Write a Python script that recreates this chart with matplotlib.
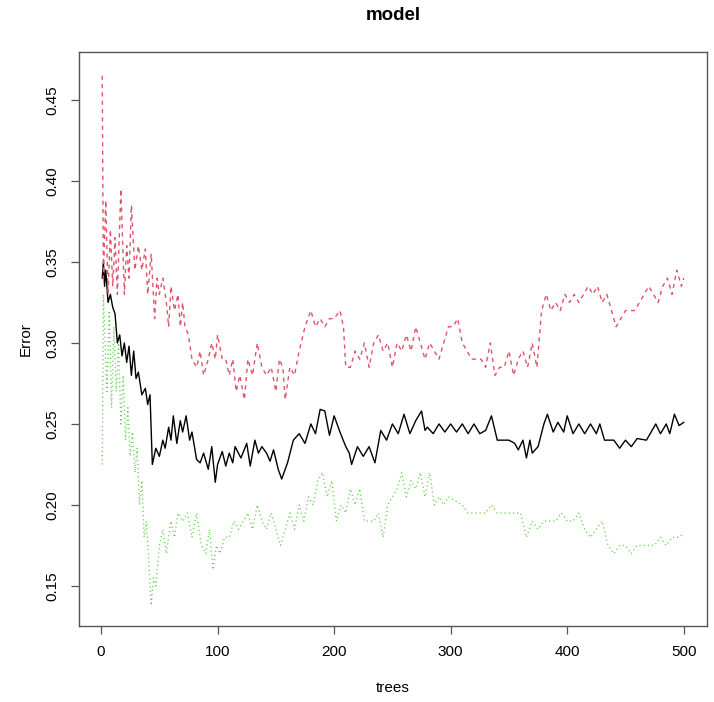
"""Random forest error vs number of trees (R randomForest style plot)."""

import matplotlib
matplotlib.use("Agg")
import matplotlib.pyplot as plt

plt.rcParams.update({
    "font.family": ["Liberation Sans", "DejaVu Sans"],
    "font.size": 11,
})

# OOB error (black, solid)
oob_trees = [1, 2, 3, 4, 6, 8, 10, 12, 14, 16,
             18, 20, 22, 24, 26, 28, 30, 32, 35, 38,
             40, 42, 44, 47, 50, 53, 55, 58, 60, 62,
             65, 68, 70, 73, 76, 78, 82, 85, 88, 92,
             95, 98, 100, 104, 107, 110, 113, 115, 120, 125,
             128, 132, 135, 138, 142, 145, 148, 152, 155, 160,
             165, 170, 175, 180, 184, 188, 192, 196, 200, 205,
             210, 213, 215, 220, 225, 230, 235, 240, 245, 250,
             255, 260, 265, 270, 275, 278, 280, 285, 290, 295,
             300, 305, 310, 315, 320, 325, 330, 335, 340, 345,
             350, 355, 358, 362, 365, 368, 370, 375, 380, 383,
             388, 392, 397, 400, 405, 410, 415, 420, 425, 428,
             432, 440, 445, 450, 455, 460, 468, 472, 476, 480,
             485, 488, 492, 496, 500]
oob_err = [0.340, 0.350, 0.335, 0.345, 0.325, 0.330, 0.322, 0.318, 0.300, 0.305,
           0.292, 0.300, 0.288, 0.298, 0.280, 0.295, 0.278, 0.282, 0.268, 0.272,
           0.262, 0.268, 0.225, 0.235, 0.230, 0.240, 0.235, 0.248, 0.240, 0.255,
           0.238, 0.252, 0.245, 0.255, 0.240, 0.245, 0.228, 0.226, 0.232, 0.222,
           0.236, 0.214, 0.225, 0.233, 0.224, 0.232, 0.226, 0.236, 0.229, 0.238,
           0.224, 0.240, 0.232, 0.236, 0.232, 0.227, 0.234, 0.222, 0.216, 0.226,
           0.240, 0.244, 0.238, 0.250, 0.244, 0.259, 0.258, 0.243, 0.255, 0.245,
           0.236, 0.232, 0.225, 0.236, 0.230, 0.236, 0.226, 0.246, 0.240, 0.250,
           0.244, 0.256, 0.244, 0.252, 0.258, 0.246, 0.248, 0.244, 0.250, 0.245,
           0.250, 0.245, 0.250, 0.244, 0.250, 0.244, 0.246, 0.255, 0.240, 0.240,
           0.240, 0.238, 0.234, 0.240, 0.229, 0.240, 0.232, 0.236, 0.250, 0.256,
           0.245, 0.251, 0.245, 0.255, 0.244, 0.250, 0.244, 0.250, 0.244, 0.250,
           0.240, 0.240, 0.235, 0.240, 0.236, 0.241, 0.240, 0.245, 0.250, 0.244,
           0.250, 0.244, 0.256, 0.249, 0.251]

# Class 1 error (red, dashed)
cls1_trees = [1, 2, 4, 6, 8, 10, 12, 14, 17, 20,
              22, 24, 26, 29, 32, 35, 38, 40, 43, 46,
              48, 50, 53, 56, 58, 60, 63, 66, 68, 70,
              72, 75, 78, 82, 85, 88, 92, 95, 98, 100,
              104, 107, 110, 113, 116, 119, 123, 126, 130, 134,
              138, 142, 146, 150, 153, 156, 158, 162, 166, 170,
              175, 180, 184, 188, 192, 196, 200, 205, 208, 210,
              214, 218, 222, 226, 230, 234, 238, 242, 246, 250,
              254, 258, 262, 266, 270, 274, 278, 282, 286, 290,
              294, 298, 302, 306, 310, 314, 318, 322, 326, 330,
              334, 338, 342, 346, 350, 354, 358, 362, 366, 370,
              374, 378, 382, 386, 390, 394, 398, 402, 406, 410,
              414, 418, 422, 426, 430, 434, 438, 442, 446, 450,
              454, 458, 462, 466, 470, 474, 478, 482, 486, 490,
              494, 498, 500]
cls1_err = [0.465, 0.340, 0.388, 0.330, 0.370, 0.335, 0.365, 0.330, 0.395, 0.330,
            0.360, 0.340, 0.385, 0.345, 0.360, 0.345, 0.358, 0.330, 0.355, 0.315,
            0.340, 0.330, 0.340, 0.325, 0.310, 0.335, 0.320, 0.330, 0.310, 0.325,
            0.310, 0.305, 0.290, 0.285, 0.295, 0.280, 0.290, 0.300, 0.290, 0.305,
            0.290, 0.290, 0.280, 0.290, 0.270, 0.280, 0.265, 0.290, 0.280, 0.300,
            0.285, 0.280, 0.285, 0.270, 0.290, 0.285, 0.265, 0.285, 0.280, 0.295,
            0.310, 0.320, 0.310, 0.315, 0.310, 0.315, 0.315, 0.320, 0.310, 0.285,
            0.285, 0.295, 0.290, 0.300, 0.285, 0.300, 0.305, 0.295, 0.300, 0.285,
            0.300, 0.295, 0.305, 0.295, 0.310, 0.300, 0.290, 0.300, 0.295, 0.290,
            0.300, 0.310, 0.310, 0.315, 0.300, 0.295, 0.290, 0.290, 0.290, 0.285,
            0.300, 0.280, 0.285, 0.285, 0.295, 0.280, 0.290, 0.295, 0.285, 0.300,
            0.285, 0.320, 0.330, 0.320, 0.325, 0.320, 0.330, 0.325, 0.330, 0.325,
            0.330, 0.335, 0.330, 0.335, 0.325, 0.330, 0.320, 0.310, 0.315, 0.320,
            0.320, 0.320, 0.325, 0.330, 0.335, 0.330, 0.325, 0.335, 0.340, 0.330,
            0.345, 0.335, 0.340]

# Class 2 error (green, dotted)
cls2_trees = [1, 2, 5, 7, 9, 11, 13, 15, 17, 19,
              21, 23, 25, 27, 29, 31, 33, 35, 37, 39,
              41, 43, 45, 47, 50, 53, 56, 60, 63, 66,
              70, 74, 78, 82, 86, 90, 93, 96, 99, 102,
              106, 110, 114, 118, 122, 126, 130, 134, 138, 142,
              146, 150, 154, 158, 162, 166, 170, 174, 178, 182,
              186, 190, 194, 198, 202, 206, 210, 214, 218, 222,
              226, 230, 234, 238, 242, 246, 250, 254, 258, 262,
              266, 270, 274, 278, 282, 286, 290, 294, 298, 310,
              315, 330, 335, 340, 360, 365, 370, 375, 380, 385,
              390, 395, 400, 405, 410, 415, 420, 425, 430, 435,
              440, 445, 450, 455, 460, 470, 475, 480, 485, 490,
              495, 500]
cls2_err = [0.225, 0.330, 0.270, 0.320, 0.260, 0.310, 0.270, 0.300, 0.250, 0.280,
            0.240, 0.260, 0.230, 0.245, 0.220, 0.235, 0.200, 0.215, 0.180, 0.190,
            0.165, 0.138, 0.155, 0.150, 0.175, 0.185, 0.170, 0.190, 0.180, 0.195,
            0.190, 0.195, 0.180, 0.195, 0.175, 0.170, 0.185, 0.160, 0.175, 0.170,
            0.180, 0.180, 0.190, 0.185, 0.190, 0.195, 0.185, 0.200, 0.190, 0.185,
            0.195, 0.185, 0.175, 0.185, 0.195, 0.185, 0.200, 0.190, 0.205, 0.200,
            0.215, 0.220, 0.205, 0.215, 0.190, 0.200, 0.195, 0.210, 0.200, 0.210,
            0.190, 0.190, 0.190, 0.195, 0.180, 0.200, 0.205, 0.210, 0.220, 0.205,
            0.215, 0.210, 0.220, 0.205, 0.220, 0.200, 0.205, 0.200, 0.205, 0.200,
            0.195, 0.195, 0.200, 0.195, 0.195, 0.180, 0.190, 0.185, 0.190, 0.190,
            0.190, 0.195, 0.190, 0.190, 0.195, 0.185, 0.180, 0.185, 0.190, 0.175,
            0.170, 0.175, 0.175, 0.170, 0.175, 0.175, 0.175, 0.180, 0.175, 0.180,
            0.180, 0.182]

fig = plt.figure(figsize=(7.14, 7.02), dpi=100)
ax = fig.add_axes([0.1106, 0.1083, 0.8796, 0.8181])

ax.plot(oob_trees, oob_err, color="black", lw=1.0)
ax.plot(cls1_trees, cls1_err, color="#DF536B", lw=1.0, dashes=(3, 3))
ax.plot(cls2_trees, cls2_err, color="#61D04F", lw=1.0, dashes=(0.8, 2.2))

ax.set_xlim(-18.96, 519.96)
ax.set_ylim(0.1253, 0.4798)
ax.set_xticks([0, 100, 200, 300, 400, 500])
ax.set_yticks([0.15, 0.20, 0.25, 0.30, 0.35, 0.40, 0.45])
ax.set_yticklabels(["0.15", "0.20", "0.25", "0.30", "0.35", "0.40", "0.45"],
                   rotation=90, va="center")
ax.tick_params(length=6, width=0.9, color="#555555", labelsize=11, pad=8)
for sp in ax.spines.values():
    sp.set_color("#555555")
    sp.set_linewidth(1.0)

fig.text(0.5506, 1 - 16 / 702, "model", ha="center", va="center",
         fontsize=13.5, fontweight="bold")
fig.text(0.5506, 1 - 688 / 702, "trees", ha="center", va="center", fontsize=11)
fig.text(26 / 714, 0.5174, "Error", ha="center", va="center", rotation=90, fontsize=11)

fig.savefig("out.png", dpi=100)
